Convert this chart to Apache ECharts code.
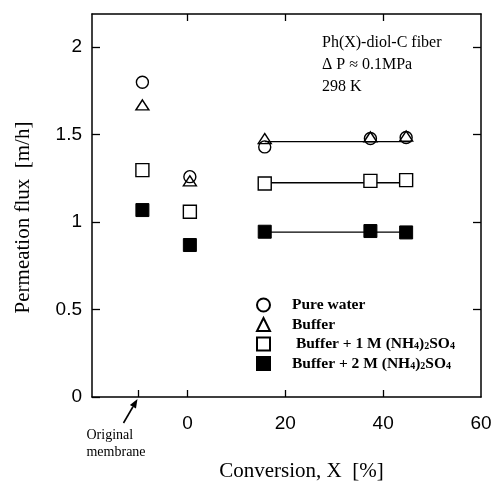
<!DOCTYPE html>
<html>
<head>
<meta charset="utf-8">
<script src="https://cdn.jsdelivr.net/npm/echarts@6/dist/echarts.min.js"></script>
<style>
  html, body { margin: 0; padding: 0; background: #fff; }
  #chart { width: 495px; height: 482px; }
</style>
</head>
<body>
<div id="chart"></div>
<script>
// Permeation flux of the Ph(X)-diol-C fiber against conversion
const seriesNames = ['Pure water', 'Buffer', 'Buffer + 1 M (NH4)2SO4', 'Buffer + 2 M (NH4)2SO4'];
const conversion = [-9.2, 0.5, 15.8, 37.4, 44.7];
const pureWater = [1.80, 1.26, 1.43, 1.478, 1.484];
const buffer = [1.67, 1.236, 1.478, 1.487, 1.492];
const buffer1M = [1.297, 1.059, 1.221, 1.236, 1.24];
const buffer2M = [1.069, 0.869, 0.945, 0.949, 0.941];

// horizontal fit lines over the modified fibers
const fitRange = [15.8, 45.8];
const fitBuffer = 1.46;
const fitBuffer1M = 1.225;
const fitBuffer2M = 0.943;

const xLabelValues = [0, 20, 40, 60];
const xBottomTicks = [-10, 0, 20, 40];
const xTopTicks = [0, 20, 40];
const yTickValues = [0, 0.5, 1, 1.5, 2];
const yRightTicks = [0.5, 1, 1.5, 2];
const originalMembraneX = -10;

const serif = '"Liberation Serif", "DejaVu Serif", serif';
const sans = '"Liberation Sans", Arial, sans-serif';

function pairs(xs, ys) { return xs.map((x, i) => [x, ys[i]]); }
function fit(v) { return [[fitRange[0], v], [fitRange[1], v]]; }

const chart = echarts.init(document.getElementById('chart'), null, { renderer: 'canvas' });

const axisLine = { show: true, onZero: false, lineStyle: { color: '#000', width: 1.5 } };
const tickStyle = { color: '#000', width: 1.3 };

const legendLabels = {
  'Pure water': '{sp|}{t|Pure water}',
  'Buffer': '{sp|}{t|Buffer}',
  'Buffer + 1 M (NH4)2SO4': '{sp|}{t| Buffer + 1 M (NH}{s|4}{t|)}{s|2}{t|SO}{s|4}',
  'Buffer + 2 M (NH4)2SO4': '{sp|}{t|Buffer + 2 M (NH}{s|4}{t|)}{s|2}{t|SO}{s|4}'
};

const openStyle = { color: 'rgba(255,255,255,0)', borderColor: '#000', borderWidth: 1.4, opacity: 1 };

const option = {
  animation: false,
  backgroundColor: '#fff',
  grid: { left: 92, right: 14, top: 14, bottom: 85, containLabel: false, outerBoundsMode: 'none' },
  legend: {
    data: seriesNames,
    orient: 'vertical',
    left: 251,
    top: 292,
    itemWidth: 13,
    itemHeight: 13,
    itemGap: 3.5,
    selectedMode: false,
    formatter: name => legendLabels[name],
    textStyle: {
      lineHeight: 16,
      rich: {
        sp: { width: 17 },
        t: { fontFamily: serif, fontWeight: 'bold', fontSize: 15.5, color: '#000', lineHeight: 16 },
        s: { fontFamily: serif, fontWeight: 'bold', fontSize: 10, color: '#000', lineHeight: 16, padding: [5, 0, 0, 0] }
      }
    }
  },
  xAxis: [
    {
      type: 'value', min: -19.5, max: 60,
      name: 'Conversion, X  [%]', nameLocation: 'middle', nameGap: 64,
      nameTextStyle: { fontFamily: serif, fontSize: 21, color: '#000', padding: [0, 0, 0, 30] },
      axisLine: axisLine,
      axisTick: { show: true, inside: true, length: 7, lineStyle: tickStyle, customValues: xBottomTicks },
      axisLabel: { customValues: xLabelValues, fontFamily: sans, fontSize: 19, color: '#000', margin: 17 },
      splitLine: { show: false }
    },
    {
      type: 'value', position: 'top', min: -19.5, max: 60,
      axisLine: axisLine,
      axisTick: { show: true, inside: true, length: 7, lineStyle: tickStyle, customValues: xTopTicks },
      axisLabel: { show: false },
      splitLine: { show: false }
    }
  ],
  yAxis: [
    {
      type: 'value', min: 0, max: 2.19,
      name: 'Permeation flux  [m/h]', nameLocation: 'middle', nameGap: 58,
      nameTextStyle: { fontFamily: serif, fontSize: 21, color: '#000', padding: [0, 24, 0, 0] },
      axisLine: axisLine,
      axisTick: { show: true, inside: true, length: 8, lineStyle: tickStyle, customValues: yTickValues },
      axisLabel: { customValues: yTickValues, fontFamily: sans, fontSize: 19, color: '#000', margin: 10 },
      splitLine: { show: false }
    },
    {
      type: 'value', position: 'right', min: 0, max: 2.19,
      axisLine: axisLine,
      axisTick: { show: true, inside: true, length: 8, lineStyle: tickStyle, customValues: yRightTicks },
      axisLabel: { show: false },
      splitLine: { show: false }
    }
  ],
  series: [
    { type: 'line', data: fit(fitBuffer), symbol: 'none', silent: true, z: 1,
      lineStyle: { color: '#000', width: 1.3 } },
    { type: 'line', data: fit(fitBuffer1M), symbol: 'none', silent: true, z: 1,
      lineStyle: { color: '#000', width: 1.3 } },
    { type: 'line', data: fit(fitBuffer2M), symbol: 'none', silent: true, z: 1,
      lineStyle: { color: '#000', width: 1.3 } },
    { name: seriesNames[0], type: 'scatter', data: pairs(conversion, pureWater), z: 3,
      symbol: 'circle', symbolSize: 12, itemStyle: openStyle },
    { name: seriesNames[1], type: 'scatter', data: pairs(conversion, buffer), z: 3,
      symbol: 'triangle', symbolSize: [13, 10], itemStyle: openStyle },
    { name: seriesNames[2], type: 'scatter', data: pairs(conversion, buffer1M), z: 3,
      symbol: 'rect', symbolSize: 13, itemStyle: { color: '#fff', borderColor: '#000', borderWidth: 1.4, opacity: 1 } },
    { name: seriesNames[3], type: 'scatter', data: pairs(conversion, buffer2M), z: 3,
      symbol: 'rect', symbolSize: 13, itemStyle: { color: '#000', borderColor: '#000', borderWidth: 1, opacity: 1 } }
  ]
};

chart.setOption(option);

// annotation pointing at the original membrane tick
const p = chart.convertToPixel({ xAxisIndex: 0, yAxisIndex: 0 }, [originalMembraneX, 0]);
const tail = [p[0] - 15, p[1] + 26];
const head = [p[0] - 1, p[1] + 2];
const ang = Math.atan2(head[1] - tail[1], head[0] - tail[0]);
const hl = 9, hw = 3.5;
const base = [head[0] - hl * Math.cos(ang), head[1] - hl * Math.sin(ang)];
const nx = -Math.sin(ang), ny = Math.cos(ang);

chart.setOption({
  graphic: [
    { type: 'line', shape: { x1: tail[0], y1: tail[1], x2: base[0], y2: base[1] },
      style: { stroke: '#000', lineWidth: 1.6 } },
    { type: 'polygon',
      shape: { points: [head, [base[0] + nx * hw, base[1] + ny * hw], [base[0] - nx * hw, base[1] - ny * hw]] },
      style: { fill: '#000' } },
    { type: 'text', x: p[0] - 52, y: p[1] + 30,
      style: { text: 'Original\nmembrane', font: '14px ' + serif, fill: '#000', lineHeight: 17 } },
    { type: 'text', left: 322, top: 32,
      style: { text: 'Ph(X)-diol-C fiber\nΔ P ≈ 0.1MPa\n298 K', font: '16px ' + serif, fill: '#000', lineHeight: 22 } }
  ]
});
</script>
</body>
</html>
